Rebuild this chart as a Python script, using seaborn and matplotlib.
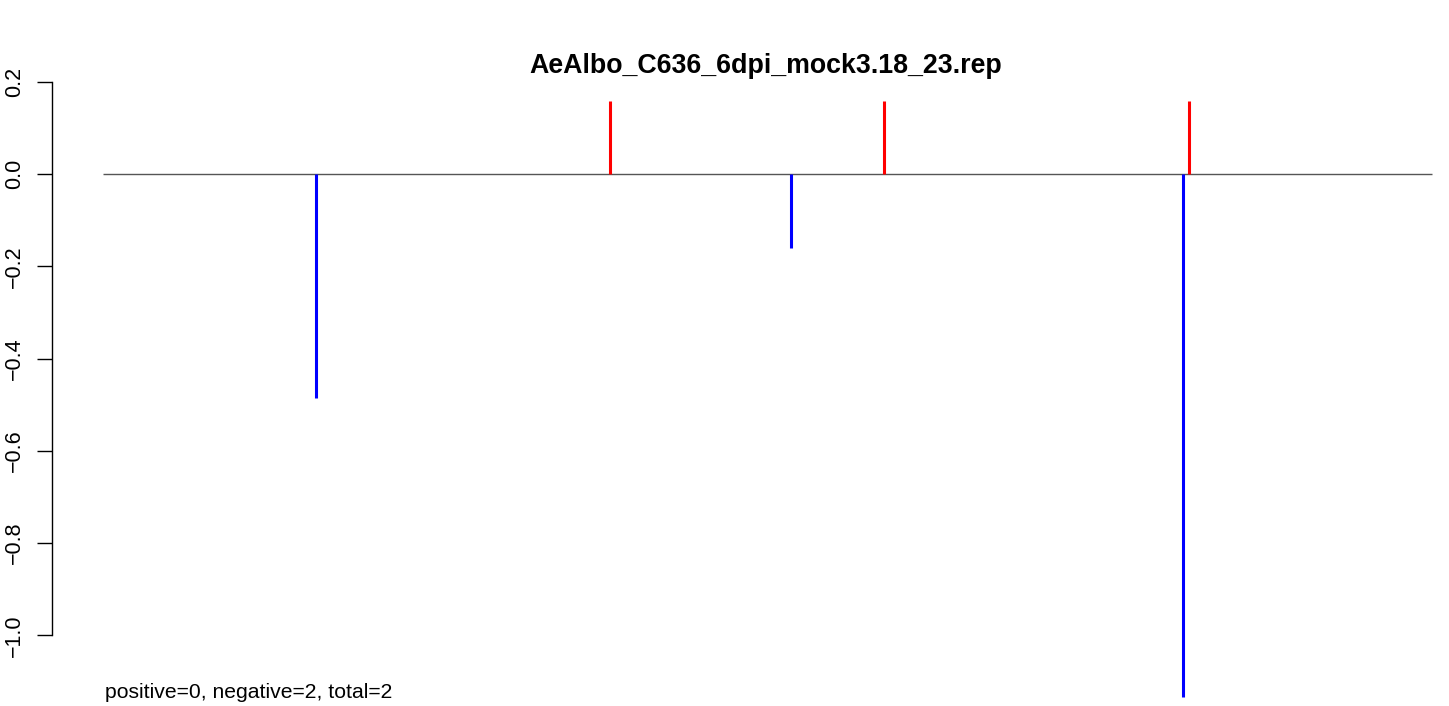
import matplotlib
matplotlib.use("Agg")
import matplotlib.pyplot as plt
import seaborn as sns

# ---- data ----
title = "AeAlbo_C636_6dpi_mock3.18_23.rep"
pos_x = [381.5, 587.7, 817.2]          # positive-strand positions
pos_y = [0.16, 0.16, 0.16]
neg_x = [160.0, 517.7, 812.6]          # negative-strand positions
neg_y = [-0.485, -0.16, -1.133]
x_range = [0, 1000]
yticks = [0.2, 0.0, -0.2, -0.4, -0.6, -0.8, -1.0]
ytick_labels = ["0.2", "0.0", "\u22120.2", "\u22120.4", "\u22120.6", "\u22120.8", "\u22121.0"]
footer = "positive=0, negative=2, total=2"

sns.set_theme(style="white")
plt.rcParams['font.family'] = ['Liberation Sans', 'DejaVu Sans']
plt.rcParams['text.color'] = 'black'

W, H = 1449, 706
fig = plt.figure(figsize=(W / 100, H / 100), dpi=100)
left_px, top_px = 52, 76.6
ax = fig.add_axes([left_px / W, 0, 1 - left_px / W, 1 - top_px / H])

ax.set_ylim(-1.1534, 0.2119)
ax.set_xlim(-38.6, 1012.6)

ax.hlines(0, x_range[0], x_range[1], color="#555555", lw=1.0, zorder=1)
ax.vlines(pos_x, 0, pos_y, color="#FF0000", lw=2.2, zorder=2)
ax.vlines(neg_x, 0, neg_y, color="#0000FF", lw=2.2, zorder=2)

for s in ["top", "right", "bottom"]:
    ax.spines[s].set_visible(False)
ax.spines["left"].set_bounds(-1.0, 0.2)
ax.spines["left"].set_color("black")
ax.spines["left"].set_linewidth(1.0)
ax.set_xticks([])
ax.set_yticks(yticks)
ax.set_yticklabels(ytick_labels, rotation=90, va="center", fontsize=15.5, color="black")
ax.tick_params(axis="y", left=True, length=11, width=1.0, pad=8.5, colors="black")
ax.set_facecolor("white")
ax.grid(False)

fig.text(766 / W, 1 - 73.3 / H, title, ha="center", va="baseline",
         fontsize=19.3, fontweight="bold", color="black")
fig.text(105 / W, 1 - 697.7 / H, footer, ha="left", va="baseline", fontsize=15.2,
         color="black")

fig.savefig("out.png", dpi=100, facecolor="white")
